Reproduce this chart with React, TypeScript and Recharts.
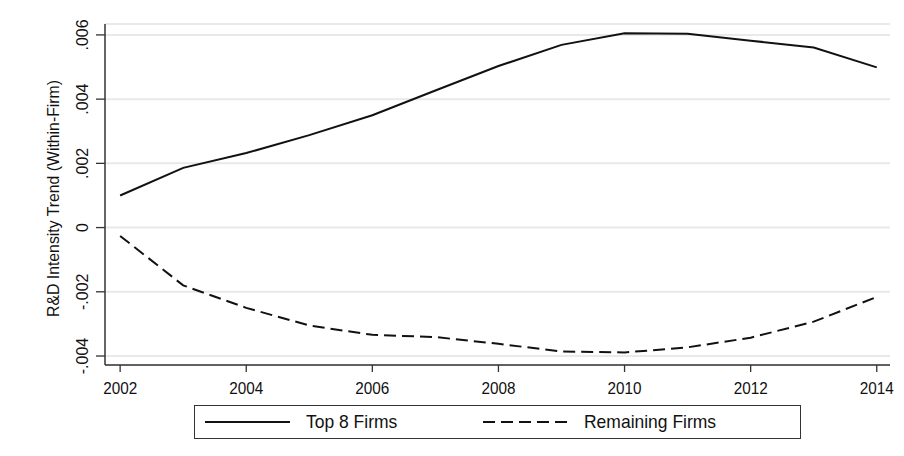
import React from "react";
import { LineChart, Line, XAxis, YAxis, CartesianGrid } from "recharts";

// Within-firm R&D intensity trend by firm group, 2002–2014
const years = [2002, 2003, 2004, 2005, 2006, 2007, 2008, 2009, 2010, 2011, 2012, 2013, 2014];
const top8Firms = [0.001, 0.00186, 0.00232, 0.00288, 0.0035, 0.00427, 0.00503, 0.00569, 0.00605, 0.00604, 0.00582, 0.00561, 0.00499];
const remainingFirms = [-0.00026, -0.0018, -0.0025, -0.00305, -0.00334, -0.00341, -0.00362, -0.00386, -0.00389, -0.00373, -0.00343, -0.00293, -0.00216];

const xTicks = [2002, 2004, 2006, 2008, 2010, 2012, 2014];
const yTicks = [-0.004, -0.002, 0, 0.002, 0.004, 0.006];
const yTickLabels = ["-.004", "-.002", "0", ".002", ".004", ".006"];

const seriesNames = ["Top 8 Firms", "Remaining Firms"];
const yTitle = "R&D Intensity Trend (Within-Firm)";

const data = years.map((year, i) => ({
  year,
  top8: top8Firms[i],
  remaining: remainingFirms[i],
}));

const FONT = '"Liberation Sans", Arial, Helvetica, sans-serif';
const INK = "#111";
const AXIS = "#333";
const DASH = "12 6";

const YTick = (props: any) => {
  const { x, y, payload } = props;
  const idx = yTicks.indexOf(payload.value);
  const label = idx >= 0 ? yTickLabels[idx] : String(payload.value);
  return (
    <text
      x={x}
      y={y}
      transform={`rotate(-90, ${x}, ${y})`}
      textAnchor="middle"
      fontFamily={FONT}
      fontSize={16}
      fill={INK}
    >
      {label}
    </text>
  );
};

// slightly condensed horizontal tick labels
const XTick = (props: any) => {
  const { x, y, payload } = props;
  return (
    <g transform={`translate(${x}, ${y}) scale(0.9, 1)`}>
      <text x={0} y={0} dy="0.71em" textAnchor="middle" fontFamily={FONT} fontSize={17} fill={INK}>
        {payload.value}
      </text>
    </g>
  );
};

const YTitle = (props: any) => {
  const vb = props.viewBox || { x: 0, y: 24, width: 105, height: 341 };
  const cx = vb.x + 59;
  const cy = vb.y + vb.height / 2 + 4;
  return (
    <text
      x={cx}
      y={cy}
      transform={`rotate(-90, ${cx}, ${cy})`}
      textAnchor="middle"
      fontFamily={FONT}
      fontSize={15.8}
      fill={INK}
    >
      {yTitle}
    </text>
  );
};

const LegendBox = () => (
  <div
    style={{
      position: "absolute",
      left: 194,
      top: 405,
      width: 607,
      height: 34,
      boxSizing: "border-box",
      border: `1.5px solid ${AXIS}`,
      background: "#fff",
      display: "flex",
      alignItems: "center",
      fontFamily: FONT,
      fontSize: 19,
      color: INK,
    }}
  >
    {seriesNames.map((name, i) => (
      <div key={name} style={{ width: 278, paddingLeft: 10, display: "flex", alignItems: "center", boxSizing: "border-box" }}>
        <svg width={86} height={6} style={{ display: "block" }}>
          <line x1={0} y1={3} x2={85} y2={3} stroke={INK} strokeWidth={2} strokeDasharray={i === 1 ? DASH : undefined} />
        </svg>
        <span
          style={{
            marginLeft: 15,
            whiteSpace: "nowrap",
            display: "inline-block",
            transform: "scaleX(0.92)",
            transformOrigin: "left center",
            lineHeight: "20px",
          }}
        >
          {name}
        </span>
      </div>
    ))}
  </div>
);

export default function App() {
  return (
    <div style={{ position: "absolute", left: 0, top: 0, width: 904, height: 456, background: "#fff" }}>
      <LineChart width={904} height={456} data={data} margin={{ top: 24, right: 14, bottom: 61, left: 0 }}>
        <CartesianGrid vertical={false} stroke="#e9e9e9" strokeWidth={2} />
        <XAxis
          dataKey="year"
          type="number"
          domain={[2001.76, 2014.21]}
          ticks={xTicks}
          allowDataOverflow
          height={30}
          tickSize={7}
          tickMargin={10}
          tickLine={{ stroke: AXIS, strokeWidth: 1.3 }}
          axisLine={{ stroke: AXIS, strokeWidth: 1.5 }}
          tick={<XTick />}
          interval={0}
        />
        <YAxis
          type="number"
          domain={[-0.00428, 0.00634]}
          ticks={yTicks}
          allowDataOverflow
          width={105}
          tickSize={9}
          tickMargin={8}
          tickLine={{ stroke: AXIS, strokeWidth: 1.3 }}
          axisLine={{ stroke: AXIS, strokeWidth: 1.5 }}
          tick={<YTick />}
          interval={0}
          label={<YTitle />}
        />
        <Line
          dataKey="top8"
          name={seriesNames[0]}
          type="linear"
          stroke={INK}
          strokeWidth={2}
          dot={false}
          isAnimationActive={false}
        />
        <Line
          dataKey="remaining"
          name={seriesNames[1]}
          type="linear"
          stroke={INK}
          strokeWidth={2}
          strokeDasharray={DASH}
          dot={false}
          isAnimationActive={false}
        />
      </LineChart>
      <LegendBox />
    </div>
  );
}
